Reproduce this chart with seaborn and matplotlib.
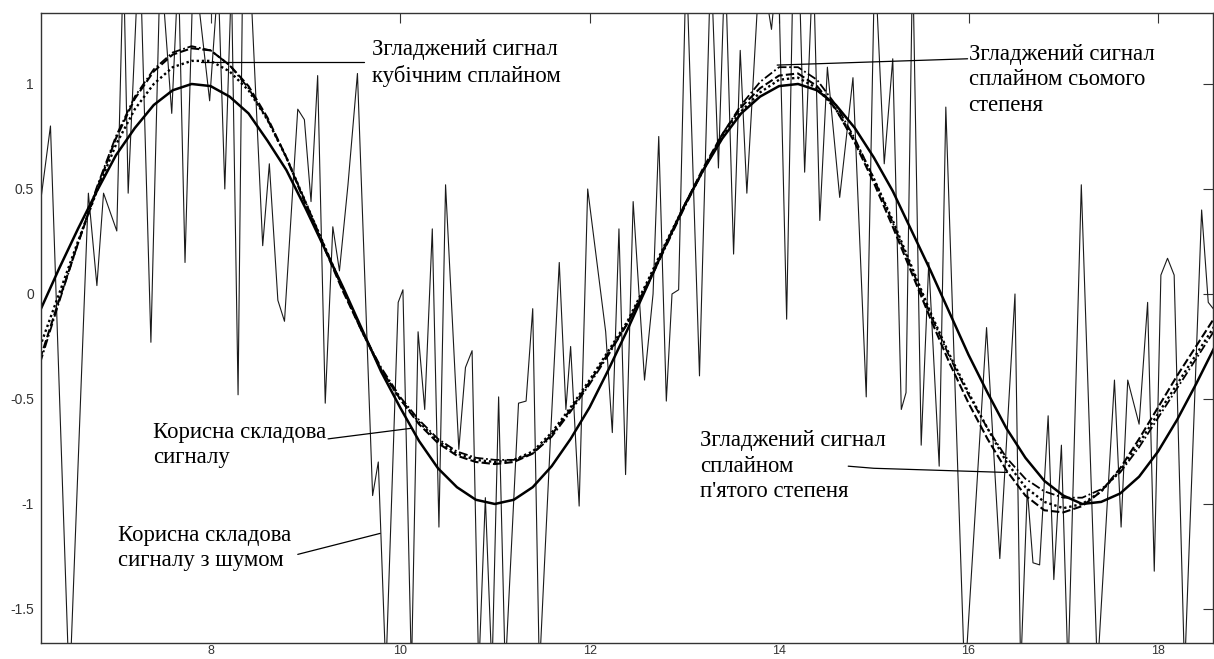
import numpy as np
import pandas as pd
import matplotlib
matplotlib.use("Agg")
import matplotlib.pyplot as plt
import seaborn as sns

# --- data ---
noise_x = [6.20, 6.31, 6.51, 6.71, 6.80, 6.87, 7.01, 7.08, 7.13, 7.25, 7.37, 7.47, 7.59, 7.66,
           7.73, 7.82, 7.99, 8.08, 8.15, 8.22, 8.29, 8.34, 8.40, 8.55, 8.62, 8.71, 8.78, 8.92,
           8.99, 9.06, 9.13, 9.21, 9.29, 9.36, 9.45, 9.55, 9.71, 9.77, 9.85, 9.98, 10.03, 10.12,
           10.19, 10.26, 10.34, 10.41, 10.48, 10.62, 10.69, 10.76, 10.83, 10.90, 10.97, 11.04,
           11.11, 11.25, 11.33, 11.40, 11.47, 11.59, 11.68, 11.75, 11.80, 11.89, 11.98, 12.05,
           12.17, 12.24, 12.31, 12.38, 12.46, 12.58, 12.67, 12.73, 12.81, 12.87, 12.94, 13.02,
           13.16, 13.28, 13.36, 13.43, 13.52, 13.59, 13.66, 13.80, 13.92, 13.99, 14.08, 14.15,
           14.22, 14.27, 14.36, 14.43, 14.51, 14.64, 14.78, 14.92, 15.01, 15.11, 15.20, 15.29,
           15.34, 15.41, 15.50, 15.58, 15.69, 15.76, 15.96, 16.19, 16.33, 16.49, 16.55, 16.62,
           16.68, 16.75, 16.84, 16.90, 16.98, 17.05, 17.19, 17.36, 17.54, 17.61, 17.68, 17.80,
           17.89, 17.96, 18.03, 18.10, 18.17, 18.28, 18.46, 18.53, 18.60]
noise_y = [0.42, 0.80, -1.90, 0.48, 0.04, 0.48, 0.30, 1.60, 0.48, 1.70, -0.23, 1.60, 0.86, 1.55,
           0.15, 1.60, 0.92, 1.50, 0.50, 1.50, -0.48, 1.60, 1.70, 0.23, 0.62, -0.03, -0.13, 0.88,
           0.83, 0.44, 1.04, -0.52, 0.32, 0.11, 0.52, 1.05, -0.96, -0.80, -1.80, -0.04, 0.02, -1.80,
           -0.18, -0.55, 0.31, -1.11, 0.52, -0.74, -0.35, -0.27, -1.80, -0.97, -1.80, -0.49,
           -1.80, -0.52, -0.51, -0.07, -1.80, -0.66, 0.15, -0.55, -0.25, -1.01, 0.50, 0.25,
           -0.18, -0.66, 0.31, -0.86, 0.44, -0.41, 0.00, 0.75, -0.51, 0.00, 0.02, 1.60,
           -0.39, 1.60, 0.60, 1.60, 0.19, 1.16, 0.48, 1.60, 1.26, 1.60, -0.12, 1.60,
           1.40, 0.58, 1.60, 0.35, 1.08, 0.46, 1.03, -0.49, 1.60, 0.62, 1.12, -0.55,
           -0.47, 1.60, -0.72, 0.15, -0.82, 0.89, -1.85, -0.16, -1.26, 0.00, -1.80, -0.93,
           -1.28, -1.29, -0.58, -1.36, -0.72, -1.80, 0.52, -1.80, -0.41, -1.11, -0.41, -0.62,
           -0.04, -1.32, 0.09, 0.17, 0.09, -1.80, 0.40, -0.04, -0.08]

xs = [6.2, 6.4, 6.6, 6.8, 7.0, 7.2, 7.4, 7.6, 7.8, 8.0, 8.2, 8.4, 8.6, 8.8, 9.0, 9.2, 9.4, 9.6,
      9.8, 10.0, 10.2, 10.4, 10.6, 10.8, 11.0, 11.2, 11.4, 11.6, 11.8, 12.0, 12.2, 12.4, 12.6,
      12.8, 13.0, 13.2, 13.4, 13.6, 13.8, 14.0, 14.2, 14.4, 14.6, 14.8, 15.0, 15.2, 15.4, 15.6,
      15.8, 16.0, 16.2, 16.4, 16.6, 16.8, 17.0, 17.2, 17.4, 17.6, 17.8, 18.0, 18.2, 18.4, 18.6]
clean = [-0.08, 0.12, 0.31, 0.49, 0.66, 0.79, 0.90, 0.97, 1.00, 0.99, 0.94, 0.86, 0.73, 0.59,
         0.41, 0.22, 0.03, -0.17, -0.37, -0.54, -0.70, -0.83, -0.92, -0.98, -1.00, -0.98, -0.92,
         -0.82, -0.69, -0.54, -0.36, -0.17, 0.03, 0.23, 0.42, 0.59, 0.74, 0.86, 0.94, 0.99, 1.00,
         0.97, 0.90, 0.79, 0.65, 0.49, 0.30, 0.11, -0.09, -0.29, -0.47, -0.64, -0.78, -0.89,
         -0.96, -1.00, -0.99, -0.95, -0.87, -0.75, -0.60, -0.43, -0.25]
cubic = [-0.25, 0.00, 0.25, 0.49, 0.71, 0.88, 1.00, 1.08, 1.11, 1.11, 1.06, 0.97, 0.83, 0.65,
         0.44, 0.23, 0.02, -0.18, -0.36, -0.50, -0.61, -0.70, -0.76, -0.79, -0.80, -0.79, -0.75,
         -0.66, -0.54, -0.41, -0.27, -0.13, 0.05, 0.24, 0.42, 0.59, 0.75, 0.87, 0.96, 1.02, 1.03,
         0.98, 0.88, 0.73, 0.55, 0.35, 0.13, -0.09, -0.29, -0.47, -0.64, -0.80, -0.92, -0.99,
         -1.02, -1.00, -0.94, -0.84, -0.71, -0.57, -0.43, -0.29, -0.15]
quintic = [-0.31, -0.03, 0.24, 0.50, 0.74, 0.93, 1.06, 1.14, 1.17, 1.16, 1.09, 0.99, 0.84, 0.65,
           0.43, 0.22, 0.01, -0.18, -0.36, -0.50, -0.62, -0.71, -0.77, -0.80, -0.81, -0.80, -0.76,
           -0.67, -0.55, -0.42, -0.28, -0.14, 0.04, 0.23, 0.42, 0.60, 0.76, 0.89, 0.98, 1.04, 1.05,
           0.99, 0.88, 0.72, 0.53, 0.32, 0.10, -0.12, -0.33, -0.52, -0.69, -0.84, -0.96, -1.03,
           -1.04, -1.01, -0.94, -0.83, -0.69, -0.54, -0.39, -0.25, -0.11]
septic = [-0.33, -0.04, 0.24, 0.51, 0.75, 0.94, 1.07, 1.15, 1.18, 1.16, 1.09, 0.98, 0.83, 0.65,
          0.44, 0.23, 0.02, -0.18, -0.35, -0.49, -0.60, -0.69, -0.75, -0.78, -0.79, -0.79, -0.76,
          -0.68, -0.56, -0.43, -0.29, -0.14, 0.03, 0.22, 0.41, 0.59, 0.76, 0.90, 1.01, 1.08, 1.08,
          1.02, 0.90, 0.74, 0.55, 0.34, 0.12, -0.10, -0.30, -0.48, -0.64, -0.78, -0.88, -0.94,
          -0.97, -0.97, -0.93, -0.85, -0.73, -0.59, -0.45, -0.31, -0.17]

x_ticks = [8, 10, 12, 14, 16, 18]
y_ticks = [-1.5, -1, -0.5, 0, 0.5, 1]
y_tick_labels = ["-1.5", "-1", "-0.5", "0", "0.5", "1"]

sns.set_style("white")
plt.rcParams['font.family'] = ['Liberation Sans', 'DejaVu Sans']

fig = plt.figure(figsize=(12.14, 6.59), dpi=100)
ax = fig.add_axes([41 / 1214, 1 - 643 / 659, 1172 / 1214, 630 / 659])

df_noise = pd.DataFrame({'x': noise_x, 'y': noise_y})
df = pd.DataFrame({'x': xs, 'clean': clean, 'cubic': cubic, 'quintic': quintic, 'septic': septic})

sns.lineplot(data=df_noise, x='x', y='y', ax=ax, color='#1a1a1a', linewidth=0.8, sort=False)
sns.lineplot(data=df, x='x', y='clean', ax=ax, color='black', linewidth=1.8)
sns.lineplot(data=df, x='x', y='cubic', ax=ax, color='black', linewidth=1.7, linestyle=(0, (1, 1.2)))
sns.lineplot(data=df, x='x', y='quintic', ax=ax, color='black', linewidth=1.5, linestyle=(0, (4, 1.5)))
sns.lineplot(data=df, x='x', y='septic', ax=ax, color='black', linewidth=1.3, linestyle=(0, (5, 1.5, 1, 1.5)))

ax.set_xlim(6.21, 18.58)
ax.set_ylim(-1.662, 1.338)
ax.set_xticks(x_ticks)
ax.set_xticklabels([str(t) for t in x_ticks])
ax.set_yticks(y_ticks)
ax.set_yticklabels(y_tick_labels)
ax.set_xlabel('')
ax.set_ylabel('')
ax.tick_params(direction='in', length=7, width=0.8, top=True, right=True,
               labelsize=10, labelcolor='#333333', color='#333333', pad=5)
ax.tick_params(axis='x', labelsize=9, pad=1.5)
for sp in ax.spines.values():
    sp.set_visible(True)
    sp.set_color('#333333')
    sp.set_linewidth(1.0)

# labels with leader lines
serif = dict(family='Liberation Serif', fontsize=16.4, color='black', va='center', ha='left',
             linespacing=1.27)
ax.text(9.70, 1.10, "Згладжений сигнал\nкубічним сплайном", **serif)
ax.text(16.00, 1.02, "Згладжений сигнал\nсплайном сьомого\nстепеня", **serif)
ax.text(7.39, -0.72, "Корисна складова\nсигналу", **serif)
ax.text(7.02, -1.21, "Корисна складова\nсигналу з шумом", **serif)
ax.text(13.17, -0.82, "Згладжений сигнал\nсплайном\nп'ятого степеня", **serif)

lead = dict(color='black', linewidth=0.9)
ax.plot([7.90, 9.62], [1.105, 1.105], **lead)
ax.plot([13.98, 15.99], [1.09, 1.12], **lead)
ax.plot([9.24, 10.11], [-0.69, -0.64], **lead)
ax.plot([8.92, 9.79], [-1.24, -1.14], **lead)
ax.plot([14.73, 15.00, 16.41], [-0.82, -0.83, -0.85], **lead)

fig.savefig("out.png", dpi=100)
